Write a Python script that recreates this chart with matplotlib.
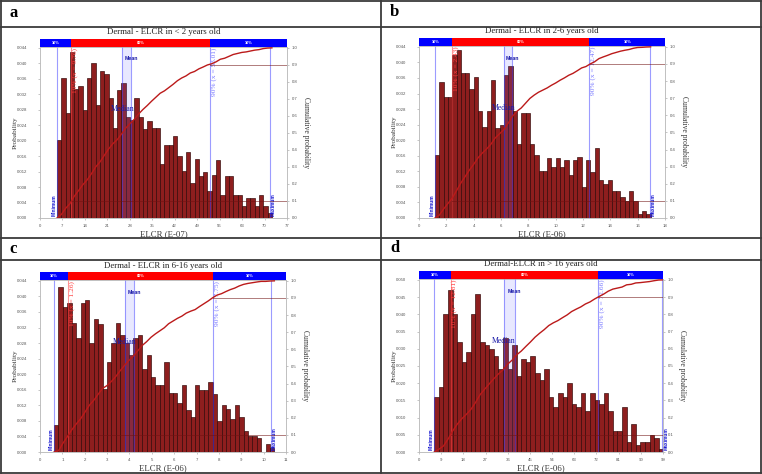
import numpy as np
import matplotlib.pyplot as plt
from matplotlib.lines import Line2D
from matplotlib.patches import Rectangle
import matplotlib.transforms as mtransforms

plt.rcParams['font.family'] = 'Liberation Sans'
SERIF = 'Liberation Serif'
W, H = 762, 474

# bin probabilities (50 bins each)
prob_a = [0.0201, 0.0361, 0.0271, 0.0430, 0.0333, 0.0342, 0.0280, 0.0361, 0.0402, 0.0291,
          0.0381, 0.0372, 0.0310, 0.0232, 0.0331, 0.0350, 0.0261, 0.0254, 0.0310, 0.0261,
          0.0230, 0.0251, 0.0232, 0.0232, 0.0140, 0.0189, 0.0189, 0.0211, 0.0161, 0.0121,
          0.0170, 0.0090, 0.0152, 0.0109, 0.0120, 0.0069, 0.0112, 0.0151, 0.0060, 0.0109,
          0.0109, 0.0060, 0.0060, 0.0030, 0.0052, 0.0052, 0.0030, 0.0060, 0.0030, 0.0013]
prob_b = [0.0162, 0.0350, 0.0312, 0.0312, 0.0419, 0.0432, 0.0372, 0.0372, 0.0331, 0.0362,
          0.0274, 0.0233, 0.0274, 0.0356, 0.0231, 0.0239, 0.0368, 0.0390, 0.0275, 0.0190,
          0.0270, 0.0270, 0.0190, 0.0162, 0.0122, 0.0122, 0.0153, 0.0132, 0.0153, 0.0132,
          0.0150, 0.0110, 0.0150, 0.0158, 0.0079, 0.0150, 0.0119, 0.0180, 0.0097, 0.0088,
          0.0097, 0.0070, 0.0070, 0.0053, 0.0044, 0.0070, 0.0044, 0.0009, 0.0018, 0.0009]
prob_c = [0.0070, 0.0423, 0.0372, 0.0382, 0.0332, 0.0292, 0.0383, 0.0390, 0.0280, 0.0342,
          0.0329, 0.0162, 0.0232, 0.0280, 0.0332, 0.0302, 0.0280, 0.0250, 0.0292, 0.0302,
          0.0214, 0.0250, 0.0193, 0.0171, 0.0171, 0.0232, 0.0152, 0.0152, 0.0125, 0.0171,
          0.0109, 0.0090, 0.0171, 0.0160, 0.0160, 0.0180, 0.0150, 0.0080, 0.0120, 0.0110,
          0.0085, 0.0120, 0.0090, 0.0055, 0.0040, 0.0040, 0.0035, 0.0000, 0.0020, 0.0010]
prob_d = [0.016, 0.019, 0.040, 0.047, 0.040, 0.032, 0.026, 0.029, 0.040, 0.046,
          0.032, 0.031, 0.030, 0.028, 0.024, 0.033, 0.024, 0.031, 0.022, 0.027,
          0.026, 0.028, 0.023, 0.021, 0.024, 0.016, 0.013, 0.017, 0.016, 0.020,
          0.014, 0.013, 0.017, 0.012, 0.017, 0.015, 0.014, 0.017, 0.012, 0.006,
          0.006, 0.013, 0.003, 0.008, 0.002, 0.003, 0.003, 0.005, 0.004, 0.001]

# first bin edge and bin width
bins_a = (5.3, 1.34)
bins_b = (1.17, 0.3156)
bins_c = (0.63, 0.197)
bins_d = (6.2, 1.858)

# minimum, maximum, 10%, 90%, median, mean
stats_a = (5.3, 71.7, 9.76, 53.01, 25.6, 28.5)
stats_b = (1.17, 16.9, 2.43, 12.47, 6.22, 6.80)
stats_c = (0.63, 10.31, 1.26, 7.75, 3.80, 4.20)
stats_d = (6.2, 98.7, 12.81, 72.66, 34.4, 38.9)

xticks_a = list(range(0, 78, 7))
xticks_b = list(range(0, 19, 2))
xticks_c = list(range(0, 12))
xticks_d = list(range(0, 100, 9))

titles = ['Dermal - ELCR in < 2 years old', 'Dermal - ELCR in 2-6 years old',
          'Dermal - ELCR in 6-16 years old', 'Dermal-ELCR in > 16 years old']
xlabels = ['ELCR (E-07)', 'ELCR (E-06)', 'ELCR (E-06)', 'ELCR (E-06)']

fig = plt.figure(figsize=(W / 100, H / 100), dpi=100)


def fx(x):
    return x / W


def fy(y):
    return 1 - y / H


# table grid
for x0, y0, x1, y1 in [(1, 1, 761, 1), (1, 473, 761, 473), (1, 1, 1, 473), (761, 1, 761, 473),
                       (381, 1, 381, 473), (1, 27, 761, 27), (1, 238, 761, 238), (1, 260, 761, 260)]:
    fig.add_artist(Line2D([fx(x0), fx(x1)], [fy(y0), fy(y1)], color='#3a3a3a', lw=1.3))

for lab, (x, y) in zip('abcd', [(9, 13), (390, 12), (9, 249), (390, 248)]):
    fig.text(fx(x), fy(y), lab, fontsize=12, fontweight='bold', family=SERIF, ha='left', va='center')


def panel(box, title, xlabel, prob, bins, stats, xticks, ytop, ystep):
    l, t, r, b = box
    wpx, hpx = r - l, b - t
    ax = fig.add_axes([l / W, 1 - b / H, wpx / W, hpx / H])
    prob = np.asarray(prob)
    start, width = bins
    edges = start + width * np.arange(len(prob) + 1)
    vmin, vmax, p10, p90, med, mean = stats

    ax.bar(edges[:-1], prob, width=width, align='edge', color='#8e1e1e',
           edgecolor='#2e0505', lw=0.45, zorder=2)
    ax.set_xlim(xticks[0], xticks[-1])
    ax.set_ylim(0, ytop * 1.005)
    ax.set_xticks(xticks)
    yt = np.arange(0, ytop + ystep / 2, ystep)
    ax.set_yticks(yt)
    ax.set_yticklabels([f'{v:.3f}' for v in yt])
    ax.tick_params(axis='both', labelsize=3.1, length=1.5, width=0.4, color='#999999',
                   labelcolor='#555555')
    ax.tick_params(axis='x', pad=2.5)
    ax.tick_params(axis='y', pad=7.8)
    for s in ax.spines.values():
        s.set_color('#bbbbbb')
        s.set_linewidth(0.5)

    # marker lines
    blue = dict(color='#3a3aff', alpha=0.5, lw=0.8, zorder=3)
    for v in (vmin, vmax, p90, med, mean):
        ax.axvline(v, **blue)
    ax.axvspan(med, mean, color='#6a6aff', alpha=0.15, lw=0, zorder=3)
    ax.axvline(p10, color='#ff4040', alpha=0.55, lw=0.8, zorder=3)

    tr = ax.get_xaxis_transform()
    right = mtransforms.offset_copy(tr, fig=fig, x=0.8, units='points')
    left = mtransforms.offset_copy(tr, fig=fig, x=-0.5, units='points')
    ax.text(vmin, 0.01, 'Minimum', transform=left, rotation=90, ha='right', va='bottom',
            fontsize=3.5, fontweight='bold', color='#1515d0', zorder=5)
    ax.text(vmax, 0.01, 'Maximum', transform=right, rotation=90, ha='left', va='bottom',
            fontsize=3.5, fontweight='bold', color='#1515d0', zorder=5)
    ax.text(mean, 0.93, 'Mean', transform=tr, ha='center', va='center', fontsize=3.8,
            fontweight='bold', color='#1a1aa8', zorder=5)
    ax.text(med, 0.64, 'Median', transform=tr, ha='center', va='center', fontsize=5.6,
            family=SERIF, color='#1a1aa8', zorder=5)
    ax.text(p10, 0.995, f'10% (x = {p10:.2f})', transform=right, rotation=90, ha='left',
            va='top', fontsize=5.3, family=SERIF, color='#ff3b3b', zorder=5)
    ax.text(p90, 0.995, f'90% (x = {p90:.2f})', transform=right, rotation=90, ha='left',
            va='top', fontsize=5.3, family=SERIF, color='#7878ff', zorder=5)

    # percentile band above the plot
    bh = 8 / hpx
    x0, x1 = xticks[0], xticks[-1]
    for a, bnd, c, txt in [(x0, p10, '#0000ff', '10%'), (p10, p90, '#ff0000', '80%'),
                           (p90, x1, '#0000ff', '10%')]:
        ax.add_patch(Rectangle((a, 1.0), bnd - a, bh, transform=tr, color=c, lw=0, clip_on=False))
        ax.text((a + bnd) / 2, 1 + bh / 2, txt, transform=tr, ha='center', va='center',
                fontsize=2.8, fontweight='bold', color='white')

    ax.text(0.5, 1 + 14.5 / hpx, title, transform=ax.transAxes, ha='center', va='center',
            fontsize=6.3, family=SERIF, color='#222222')
    ax.text(0.5, -16 / hpx, xlabel, transform=ax.transAxes, ha='center', va='center',
            fontsize=6.3, family=SERIF, color='#333333')
    ax.text(-25 / wpx, 0.5, 'Probability', transform=ax.transAxes, rotation=90,
            ha='center', va='center', fontsize=5.2, family=SERIF, color='#333333')
    ax.text(1 + 19 / wpx, 0.5, 'Cumulative probability', transform=ax.transAxes,
            rotation=270, ha='center', va='center', fontsize=5.5, family=SERIF, color='#333333')

    # cumulative curve on the right axis
    ax2 = ax.twinx()
    cum = np.concatenate([[0.0], np.cumsum(prob)]) / prob.sum()
    ax2.plot(edges, cum, color='#bb1a1a', lw=1.0, zorder=4)
    hl = dict(color='#701010', alpha=0.55, lw=0.7)
    ax2.plot([p10, x1], [0.1, 0.1], **hl)
    ax2.plot([p90, x1], [0.9, 0.9], **hl)
    ax2.set_ylim(0, 1.005)
    rt = np.round(np.arange(0, 1.05, 0.1), 1)
    ax2.set_yticks(rt)
    ax2.set_yticklabels([f'{v:.1f}' for v in rt])
    ax2.tick_params(axis='y', labelsize=3.1, length=1.5, width=0.4, color='#999999',
                    labelcolor='#555555', pad=2)
    for s in ax2.spines.values():
        s.set_color('#bbbbbb')
        s.set_linewidth(0.5)
    ax2.set_xlim(x0, x1)


panel((40, 47, 287, 218), titles[0], xlabels[0], prob_a, bins_a, stats_a, xticks_a, 0.044, 0.004)
panel((419, 46, 665, 218), titles[1], xlabels[1], prob_b, bins_b, stats_b, xticks_b, 0.044, 0.004)
panel((40, 280, 286, 452), titles[2], xlabels[2], prob_c, bins_c, stats_c, xticks_c, 0.044, 0.004)
panel((419, 279, 663, 452), titles[3], xlabels[3], prob_d, bins_d, stats_d, xticks_d, 0.050, 0.005)

fig.savefig('out.png', dpi=100)
